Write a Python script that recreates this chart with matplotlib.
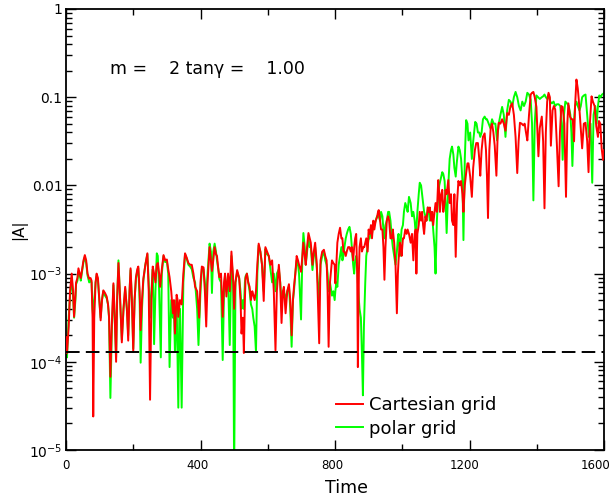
import matplotlib
matplotlib.use("Agg")
import matplotlib.pyplot as plt
import numpy as np
from matplotlib.lines import Line2D
from matplotlib.transforms import ScaledTranslation
from matplotlib.ticker import FixedLocator, FixedFormatter, LogLocator, NullFormatter, MultipleLocator

# ---- data (values given as log10|A|) ----
cart_time = [0, 3, 8, 12, 17, 21, 24, 28, 30, 34,
    37, 41, 44, 48, 52, 56, 60, 64, 69, 73,
    76, 79, 81, 84, 88, 91, 95, 99, 103, 107,
    111, 116, 121, 125, 128, 132, 136, 141, 145, 149,
    152, 156, 160, 166, 171, 176, 181, 185, 189, 192,
    196, 200, 204, 208, 212, 215, 219, 222, 226, 230,
    236, 242, 246, 250, 254, 258, 262, 266, 270, 273,
    277, 280, 285, 290, 295, 300, 304, 308, 313, 318,
    321, 324, 327, 329, 332, 334, 339, 344, 349, 354,
    359, 364, 369, 374, 379, 384, 390, 396, 400, 404,
    409, 413, 417, 421, 427, 431, 434, 438, 442, 446,
    449, 453, 456, 461, 466, 470, 473, 477, 482, 487,
    492, 497, 500, 504, 509, 515, 519, 522, 526, 529,
    532, 534, 538, 542, 546, 550, 554, 557, 561, 565,
    569, 573, 578, 583, 588, 593, 598, 603, 608, 613,
    618, 623, 627, 633, 637, 641, 645, 648, 653, 658,
    663, 667, 671, 675, 678, 682, 686, 690, 693, 699,
    703, 706, 710, 713, 717, 721, 725, 728, 733, 737,
    741, 746, 749, 753, 757, 762, 767, 771, 775, 778,
    781, 785, 791, 795, 799, 801, 804, 807, 811, 815,
    819, 822, 825, 828, 832, 835, 839, 843, 847, 850,
    854, 857, 860, 863, 866, 868, 871, 873, 877, 880,
    884, 887, 890, 893, 897, 900, 903, 907, 910, 914,
    917, 921, 925, 928, 930, 934, 937, 941, 944, 947,
    950, 954, 958, 961, 965, 969, 972, 976, 980, 984,
    987, 989, 993, 996, 998, 1002, 1005, 1009, 1013, 1016,
    1020, 1025, 1029, 1033, 1037, 1040, 1042, 1045, 1049, 1052,
    1056, 1059, 1062, 1065, 1069, 1072, 1076, 1079, 1082, 1086,
    1089, 1092, 1096, 1099, 1103, 1107, 1110, 1112, 1116, 1119,
    1122, 1126, 1129, 1132, 1137, 1141, 1145, 1148, 1152, 1155,
    1159, 1163, 1167, 1171, 1175, 1179, 1182, 1186, 1190, 1194,
    1197, 1202, 1207, 1211, 1216, 1220, 1225, 1229, 1232, 1236,
    1240, 1245, 1249, 1252, 1255, 1259, 1263, 1267, 1271, 1275,
    1280, 1284, 1287, 1292, 1297, 1302, 1307, 1312, 1317, 1322,
    1327, 1332, 1337, 1342, 1346, 1350, 1355, 1360, 1364, 1368,
    1372, 1377, 1382, 1386, 1390, 1394, 1399, 1405, 1409, 1415,
    1419, 1423, 1427, 1431, 1435, 1439, 1442, 1447, 1451, 1455,
    1460, 1465, 1469, 1473, 1477, 1482, 1487, 1491, 1494, 1499,
    1503, 1507, 1511, 1514, 1518, 1522, 1525, 1530, 1535, 1540,
    1545, 1550, 1554, 1558, 1563, 1567, 1572, 1577, 1582, 1585,
    1589, 1593, 1597, 1600]
cart_logA = [-3.72, -3.90, -3.6, -3.2, -3.0, -3.2, -3.49, -3.25, -3.1, -3.05,
    -2.94, -3.0, -3.05, -2.95, -2.85, -2.79, -2.85, -3.0, -3.06, -3.05,
    -3.08, -3.5, -4.62, -3.5, -3.1, -3.0, -3.05, -3.3, -3.53, -3.3,
    -3.19, -3.22, -3.26, -3.35, -3.49, -4.17, -3.6, -3.11, -3.5, -4.0,
    -3.3, -2.88, -3.2, -3.78, -3.4, -3.15, -3.4, -3.76, -3.2, -2.94,
    -3.3, -3.89, -3.3, -3.04, -2.95, -2.92, -3.2, -3.64, -3.3, -3.06,
    -2.9, -2.77, -3.2, -4.43, -3.3, -2.92, -3.0, -3.1, -2.9, -2.88,
    -3.0, -3.15, -2.95, -2.79, -2.85, -2.84, -2.95, -3.04, -3.2, -3.45,
    -3.3, -3.68, -3.4, -3.24, -3.3, -3.49, -3.3, -3.35, -3.0, -2.77,
    -2.82, -2.88, -2.9, -2.9, -3.0, -3.15, -3.2, -3.5, -3.1, -2.92,
    -2.93, -3.2, -3.6, -3.1, -2.7, -2.85, -2.97, -2.85, -2.7, -2.78,
    -2.8, -2.95, -3.04, -3.0, -3.49, -3.1, -3.0, -3.26, -3.0, -3.2,
    -2.75, -3.05, -3.4, -3.1, -2.96, -3.05, -3.3, -3.68, -3.5, -3.9,
    -3.3, -3.05, -3.0, -3.1, -3.15, -3.3, -3.2, -3.24, -3.3, -3.2,
    -2.9, -2.66, -2.75, -2.9, -3.31, -2.7, -2.75, -2.8, -2.9, -2.85,
    -3.2, -3.87, -3.2, -2.9, -3.1, -3.56, -3.2, -3.15, -3.45, -3.2,
    -3.12, -3.3, -3.7, -3.3, -3.15, -3.0, -2.8, -2.85, -2.9, -2.98,
    -2.8, -2.65, -2.8, -2.9, -2.7, -2.54, -2.6, -2.65, -2.9, -2.75,
    -2.65, -2.9, -3.3, -3.79, -2.85, -2.75, -2.73, -2.8, -2.85, -3.2,
    -3.83, -3.1, -2.85, -2.88, -2.9, -3.11, -2.9, -2.65, -2.55, -2.48,
    -2.6, -2.6, -2.75, -2.75, -2.8, -2.75, -2.7, -2.7, -2.75, -2.7,
    -2.85, -2.7, -2.6, -2.55, -3.0, -4.06, -3.0, -2.7, -2.6, -2.75,
    -2.7, -2.7, -2.65, -2.6, -2.75, -2.5, -2.55, -2.45, -2.6, -2.4,
    -2.5, -2.4, -2.36, -2.3, -2.28, -2.4, -2.5, -2.5, -2.7, -3.07,
    -2.7, -2.4, -2.35, -2.4, -2.6, -2.6, -2.5, -2.65, -2.9, -3.45,
    -3.0, -2.85, -2.65, -2.7, -2.8, -2.6, -2.6, -2.5, -2.55, -2.5,
    -2.55, -2.65, -2.55, -2.85, -2.55, -2.5, -3.0, -2.55, -2.45, -2.3,
    -2.4, -2.3, -2.45, -2.55, -2.35, -2.4, -2.25, -2.3, -2.25, -2.4,
    -2.3, -2.45, -2.3, -2.2, -2.3, -1.94, -2.1, -2.3, -2.1, -2.05,
    -2.3, -2.2, -2.05, -2.1, -1.94, -2.2, -2.1, -2.4, -2.45, -2.1,
    -2.81, -2.2, -1.95, -2.0, -1.95, -2.1, -2.3, -2.0, -1.86, -1.75,
    -1.75, -1.9, -2.13, -1.8, -1.6, -1.52, -1.52, -1.7, -1.89, -1.6,
    -1.45, -1.41, -1.6, -1.9, -2.37, -1.6, -1.35, -1.3, -1.4, -1.55,
    -1.89, -1.4, -1.29, -1.3, -1.25, -1.3, -1.38, -1.18, -1.2, -1.1,
    -1.07, -1.2, -1.45, -1.86, -1.5, -1.29, -1.3, -1.32, -1.3, -1.4,
    -1.49, -1.2, -0.97, -0.95, -0.94, -1.0, -1.11, -1.67, -1.35, -1.22,
    -1.5, -2.26, -1.4, -1.05, -0.95, -1.0, -1.55, -1.15, -1.1, -1.14,
    -1.55, -2.01, -1.4, -1.1, -1.11, -1.3, -2.13, -1.3, -1.07, -1.22,
    -1.25, -1.25, -1.5, -1.1, -0.8, -0.9, -1.03, -1.3, -1.58, -1.3,
    -1.29, -1.5, -1.85, -1.3, -0.99, -1.05, -1.1, -1.33, -1.45, -1.27,
    -1.3, -1.58, -1.71, -1.6]

polar_time = [0, 3, 8, 12, 17, 21, 24, 28, 30, 34,
    37, 41, 44, 48, 52, 56, 60, 64, 69, 73,
    76, 79, 81, 84, 88, 91, 95, 99, 103, 107,
    111, 116, 121, 125, 128, 132, 136, 141, 145, 149,
    152, 156, 160, 166, 171, 176, 181, 185, 189, 192,
    196, 200, 204, 208, 212, 215, 219, 222, 226, 230,
    236, 242, 246, 250, 254, 258, 262, 266, 270, 273,
    277, 282, 285, 290, 295, 300, 304, 308, 313, 318,
    321, 324, 327, 329, 334, 337, 339, 344, 349, 354,
    359, 364, 369, 374, 379, 384, 390, 394, 400, 404,
    409, 413, 417, 421, 427, 431, 434, 438, 442, 446,
    449, 453, 456, 461, 466, 470, 473, 477, 482, 487,
    492, 497, 500, 504, 509, 515, 519, 522, 526, 529,
    532, 534, 538, 542, 546, 550, 554, 557, 561, 565,
    569, 573, 578, 583, 588, 593, 598, 603, 608, 613,
    618, 623, 627, 633, 637, 641, 645, 648, 653, 658,
    663, 667, 671, 675, 678, 682, 686, 690, 693, 699,
    703, 706, 710, 713, 717, 721, 725, 728, 733, 737,
    741, 746, 749, 753, 757, 762, 767, 771, 775, 778,
    781, 785, 791, 795, 799, 801, 804, 807, 811, 815,
    819, 822, 825, 828, 832, 835, 839, 843, 847, 850,
    854, 857, 860, 863, 866, 868, 871, 873, 877, 880,
    883, 886, 890, 893, 897, 900, 903, 907, 910, 914,
    917, 921, 925, 928, 930, 934, 937, 941, 944, 947,
    950, 954, 958, 961, 965, 969, 972, 976, 980, 984,
    987, 989, 993, 996, 998, 1002, 1005, 1009, 1013, 1016,
    1020, 1025, 1029, 1033, 1037, 1040, 1042, 1045, 1049, 1052,
    1056, 1059, 1062, 1065, 1069, 1072, 1076, 1079, 1082, 1086,
    1089, 1092, 1096, 1099, 1103, 1107, 1110, 1113, 1116, 1119,
    1122, 1126, 1129, 1132, 1137, 1141, 1145, 1148, 1152, 1155,
    1159, 1162, 1167, 1171, 1175, 1179, 1182, 1186, 1190, 1194,
    1197, 1202, 1207, 1211, 1217, 1221, 1225, 1229, 1232, 1236,
    1240, 1245, 1249, 1252, 1257, 1262, 1267, 1272, 1277, 1282,
    1287, 1292, 1297, 1302, 1307, 1312, 1317, 1322, 1327, 1332,
    1337, 1342, 1347, 1352, 1357, 1362, 1367, 1372, 1377, 1382,
    1386, 1390, 1394, 1399, 1404, 1409, 1415, 1419, 1423, 1427,
    1431, 1435, 1440, 1445, 1450, 1455, 1460, 1465, 1470, 1474,
    1477, 1481, 1485, 1490, 1495, 1500, 1503, 1506, 1510, 1514,
    1518, 1522, 1527, 1531, 1535, 1540, 1545, 1550, 1555, 1560,
    1565, 1569, 1574, 1578, 1582, 1586, 1590, 1594, 1598, 1600]
polar_logA = [-3.8, -3.95, -3.5, -3.25, -3.05, -3.25, -3.5, -3.3, -3.12, -3.08,
    -2.98, -3.02, -3.08, -2.97, -2.87, -2.81, -2.88, -3.02, -3.1, -3.08,
    -3.1, -3.4, -3.5, -3.3, -3.1, -3.02, -3.08, -3.3, -3.5, -3.3,
    -3.2, -3.25, -3.28, -3.35, -3.5, -4.41, -3.7, -3.13, -3.5, -3.95,
    -3.3, -2.85, -3.2, -3.75, -3.4, -3.17, -3.4, -3.7, -3.2, -2.96,
    -3.3, -3.85, -3.3, -3.06, -2.97, -2.94, -3.3, -4.01, -3.4, -3.08,
    -2.9, -2.78, -3.1, -3.5, -3.2, -2.95, -3.8, -3.2, -2.77, -2.8,
    -3.2, -3.95, -3.0, -2.8, -2.87, -2.86, -3.0, -4.06, -3.3, -3.5,
    -3.4, -3.89, -3.5, -3.3, -4.52, -3.5, -3.4, -4.52, -3.1, -2.78,
    -2.83, -2.9, -2.92, -2.95, -3.05, -3.1, -3.4, -3.81, -3.2, -2.95,
    -2.95, -3.1, -3.3, -3.0, -2.66, -2.75, -3.22, -2.75, -2.66, -2.75,
    -2.85, -2.95, -3.06, -3.1, -3.98, -3.2, -3.02, -3.2, -3.05, -3.81,
    -2.8, -3.1, -5.3, -3.1, -2.98, -3.05, -3.2, -3.4, -3.3, -3.4,
    -3.1, -3.03, -3.0, -3.1, -3.2, -3.35, -3.4, -3.5, -3.6, -3.89,
    -3.0, -2.68, -2.75, -2.9, -3.2, -2.72, -2.78, -2.8, -2.95, -3.1,
    -3.0, -3.2, -3.0, -2.95, -3.1, -3.3, -3.25, -3.2, -3.3, -3.2,
    -3.15, -3.4, -3.83, -3.3, -3.2, -3.0, -2.85, -2.9, -3.0, -3.52,
    -2.8, -2.54, -2.7, -2.9, -2.75, -2.6, -2.7, -2.7, -2.96, -2.8,
    -2.7, -2.95, -3.1, -3.3, -2.9, -2.8, -2.75, -2.85, -2.9, -3.0,
    -3.2, -3.1, -3.25, -3.2, -3.3, -3.2, -3.1, -3.15, -2.9, -2.8,
    -2.7, -2.85, -2.8, -2.7, -2.6, -2.55, -2.5, -2.47, -2.55, -2.7,
    -2.9, -3.0, -2.85, -2.8, -2.9, -3.1, -3.3, -3.4, -3.5, -3.9,
    -4.38, -3.6, -3.1, -2.8, -2.7, -2.6, -2.6, -2.5, -2.55, -2.45,
    -2.45, -2.4, -2.35, -2.35, -2.35, -2.4, -2.3, -2.35, -2.5, -2.6,
    -2.45, -2.4, -2.3, -2.3, -2.4, -2.6, -2.7, -2.8, -2.9, -2.75,
    -2.6, -2.55, -2.8, -2.6, -2.5, -2.45, -2.3, -2.2, -2.25, -2.3,
    -2.13, -2.2, -2.35, -2.3, -2.4, -2.55, -2.5, -2.3, -2.1, -1.97,
    -2.0, -2.1, -2.2, -2.3, -2.35, -2.4, -2.25, -2.3, -2.4, -2.3,
    -2.35, -2.5, -2.7, -3.0, -2.4, -2.1, -2.0, -1.95, -1.9, -1.85,
    -1.87, -1.95, -2.2, -2.54, -2.0, -1.7, -1.6, -1.56, -1.65, -1.8,
    -1.9, -1.75, -1.56, -1.6, -1.7, -1.95, -2.62, -1.7, -1.26, -1.3,
    -1.49, -1.4, -1.7, -1.5, -1.28, -1.3, -1.4, -1.4, -1.45, -1.4,
    -1.25, -1.22, -1.25, -1.25, -1.3, -1.35, -1.25, -1.3, -1.3, -1.49,
    -1.3, -1.2, -1.11, -1.2, -1.45, -1.15, -1.03, -1.05, -1.11, -1.0,
    -0.94, -1.0, -1.1, -1.15, -1.05, -1.1, -1.05, -0.95, -0.97, -1.03,
    -1.3, -2.17, -1.3, -0.98, -1.0, -1.02, -1.0, -0.99, -0.97, -1.0,
    -1.02, -0.97, -1.05, -1.07, -1.05, -1.1, -1.08, -1.08, -1.1, -1.3,
    -1.71, -1.2, -1.05, -1.07, -1.1, -1.2, -1.4, -1.78, -1.3, -1.1,
    -1.05, -1.1, -1.15, -1.1, -1.0, -0.98, -0.97, -1.2, -1.45, -1.3,
    -1.97, -1.2, -1.1, -1.3, -1.1, -0.98, -1.0, -0.97, -0.96, -0.95]

threshold = 1.3e-4
series_labels = ["Cartesian grid", "polar grid"]
series_colors = ["#ff0000", "#00ff00"]
xticks_major = [0, 400, 800, 1200, 1600]
yticks_major = [1e-5, 1e-4, 1e-3, 1e-2, 1e-1, 1]
ytick_labels = [r"$10^{-5}$", r"$10^{-4}$", r"$10^{-3}$", "0.01", "0.1", "1"]
annotation = "m =    2 tan\u03b3 =    1.00"

cart = np.power(10.0, np.array(cart_logA))
polar = np.power(10.0, np.array(polar_logA))

plt.rcParams['font.family'] = ['DejaVu Sans']
plt.rcParams['mathtext.fontset'] = 'dejavusans'

fig = plt.figure(figsize=(6.14, 4.99), dpi=100)
ax = fig.add_axes([66/614, 49/499, 538/614, 441/499])

ax.plot(polar_time, polar, color=series_colors[1], lw=1.4, zorder=2)
ax.plot(cart_time, cart, color=series_colors[0], lw=1.4, zorder=3)
ax.axhline(threshold, color='black', lw=1.4, ls=(0, (7, 3.2)), zorder=4)

ax.set_yscale('log')
ax.set_xlim(0, 1600)
ax.set_ylim(1e-5, 1)

ax.xaxis.set_major_locator(FixedLocator(xticks_major))
ax.xaxis.set_minor_locator(MultipleLocator(200))
ax.yaxis.set_major_locator(FixedLocator(yticks_major))
ax.yaxis.set_major_formatter(FixedFormatter(ytick_labels))
ax.yaxis.set_minor_locator(LogLocator(base=10, subs=np.arange(2, 10)))
ax.yaxis.set_minor_formatter(NullFormatter())

ax.tick_params(which='both', direction='in', top=True, right=True, width=1.0)
ax.tick_params(which='major', length=7)
ax.tick_params(which='minor', length=4)
ax.tick_params(axis='x', which='major', labelsize=8.5, pad=6.5)
ax.tick_params(axis='y', which='major', labelsize=10, pad=2.5)
for s in ax.spines.values():
    s.set_linewidth(1.3)

# x tick labels sit slightly left of their ticks in the reference
label_shift_px = [0, -3, -3, -5, -8]
for lab, dx in zip(ax.get_xticklabels(), label_shift_px):
    lab.set_transform(lab.get_transform() + ScaledTranslation(dx/100, 0, fig.dpi_scale_trans))

ax.set_xlabel("Time", fontsize=12.5, va='top')
ax.xaxis.set_label_coords(0.522, -0.066)
ax.set_ylabel("|A|", fontsize=11)
ax.yaxis.set_label_coords(-0.0725, 0.5)

ax.text(131, 0.21, annotation, fontsize=12.5, va='center', ha='left')

handles = [Line2D([], [], color=series_colors[0], lw=1.4),
           Line2D([], [], color=series_colors[1], lw=1.4)]
ax.legend(handles, series_labels, loc='upper left', bbox_to_anchor=(0.502, 0.122),
          frameon=False, fontsize=13, handlelength=1.5, handletextpad=0.35,
          labelspacing=0.3, borderpad=0, borderaxespad=0)

fig.savefig("out.png", dpi=100)
